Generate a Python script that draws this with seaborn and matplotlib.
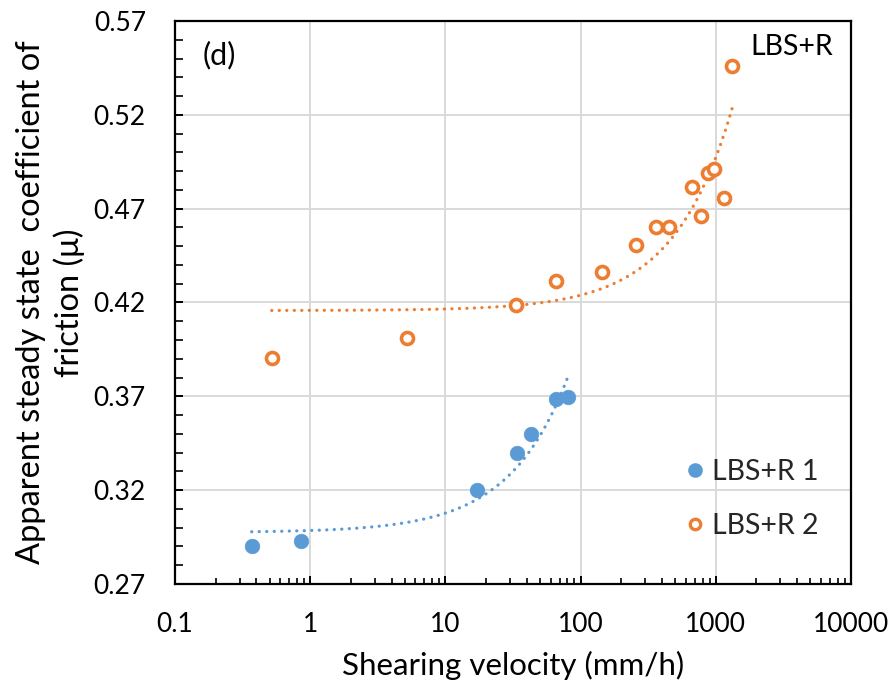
import numpy as np
import pandas as pd
import matplotlib
matplotlib.use("Agg")
import matplotlib.pyplot as plt
import matplotlib.ticker as mticker
from matplotlib.lines import Line2D
import seaborn as sns

# Shearing velocity (mm/h) and apparent steady-state friction coefficient
v_run1 = [0.369, 0.855, 17.0, 33.7, 43.0, 65.8, 81.0]
mu_run1 = [0.290, 0.293, 0.320, 0.340, 0.350, 0.3686, 0.3695]

v_run2 = [0.519, 5.23, 33.3, 66.1, 143, 255, 361, 448, 667, 782, 875, 975, 1143, 1325]
mu_run2 = [0.3906, 0.4013, 0.4185, 0.4313, 0.4361, 0.4506, 0.460, 0.460,
           0.4815, 0.4659, 0.489, 0.491, 0.4755, 0.546]

series_names = ["LBS+R 1", "LBS+R 2"]
x_tick_values = [0.1, 1, 10, 100, 1000, 10000]
x_tick_labels = ["0.1", "1", "10", "100", "1000", "10000"]
y_tick_values = [0.27, 0.32, 0.37, 0.42, 0.47, 0.52, 0.57]

BLUE = "#5B9BD5"
ORANGE = "#ED7D31"

sns.set_theme(style="white")
plt.rcParams["font.family"] = ["Lato", "DejaVu Sans"]

fig = plt.figure(figsize=(8.92, 6.88), dpi=100)
ax = fig.add_axes([0.1962, 0.1512, 0.7578, 0.8183])

df1 = pd.DataFrame({"v": v_run1, "mu": mu_run1})
df2 = pd.DataFrame({"v": v_run2, "mu": mu_run2})


def linear_trend(df):
    slope, intercept = np.polyfit(df["v"], df["mu"], 1)
    xs = np.geomspace(df["v"].min(), df["v"].max(), 300)
    return pd.DataFrame({"v": xs, "mu": intercept + slope * xs})


dot_style = dict(linewidth=2.3, linestyle=(0, (0.05, 2.3)),
                 dash_capstyle="round", solid_capstyle="round")
sns.lineplot(data=linear_trend(df1), x="v", y="mu", ax=ax, color=BLUE,
             legend=False, **dot_style)
sns.lineplot(data=linear_trend(df2), x="v", y="mu", ax=ax, color=ORANGE,
             legend=False, **dot_style)

sns.scatterplot(data=df1, x="v", y="mu", ax=ax, color=BLUE, s=110,
                edgecolor=BLUE, linewidth=0.5, zorder=5)
sns.scatterplot(data=df2, x="v", y="mu", ax=ax, facecolor="white", s=75,
                edgecolor=ORANGE, linewidth=2.6, zorder=5)

ax.set_xscale("log")
ax.set_xlim(0.1, 10000)
ax.set_ylim(0.27, 0.57)
ax.set_xticks(x_tick_values)
ax.set_xticklabels(x_tick_labels)
ax.set_yticks(y_tick_values)
ax.set_yticklabels([f"{v:.2f}" for v in y_tick_values])
ax.xaxis.set_minor_locator(mticker.LogLocator(base=10, subs=np.arange(2, 10)))
ax.xaxis.set_minor_formatter(mticker.NullFormatter())
ax.yaxis.set_minor_locator(mticker.MultipleLocator(0.01))

ax.grid(True, which="major", color="#d9d9d9", linewidth=1.4)
ax.set_axisbelow(True)
for side in ["left", "right", "top", "bottom"]:
    ax.spines[side].set_visible(True)
    ax.spines[side].set_color("black")
    ax.spines[side].set_linewidth(1.6)

ax.tick_params(axis="both", which="major", direction="in", length=6,
               width=1.4, color="black", labelsize=19, pad=20,
               labelcolor="black", bottom=True, left=True, top=False, right=False)
ax.tick_params(axis="y", which="major", pad=21)
ax.tick_params(axis="both", which="minor", direction="in", length=4.5,
               width=1.2, color="black", bottom=True, left=True, top=False, right=False)
ax.tick_params(axis="y", which="minor", length=6)

ax.set_xlabel("Shearing velocity (mm/h)", fontsize=22.5, labelpad=10, color="black")
ax.set_ylabel("Apparent steady state  coefficient of\nfriction (\u03bc)",
              fontsize=23.5, labelpad=6, color="black", linespacing=1.3)

ax.text(0.066, 0.94, "(d)", transform=ax.transAxes, fontsize=22,
        ha="center", va="center", color="black")
ax.text(0.912, 0.953, "LBS+R", transform=ax.transAxes, fontsize=20.5,
        ha="center", va="center", color="black")

handles = [
    Line2D([], [], linestyle="none", marker="o", markersize=9.5,
           markerfacecolor=BLUE, markeredgecolor=BLUE),
    Line2D([], [], linestyle="none", marker="o", markersize=7.5,
           markerfacecolor="white", markeredgecolor=ORANGE, markeredgewidth=2.4),
]
ax.legend(handles, series_names, loc="lower left", bbox_to_anchor=(0.731, 0.059),
          frameon=False, fontsize=20.5, handletextpad=0.1, handlelength=1.0,
          labelspacing=1.0, borderaxespad=0)

fig.savefig("out.png", dpi=100)
